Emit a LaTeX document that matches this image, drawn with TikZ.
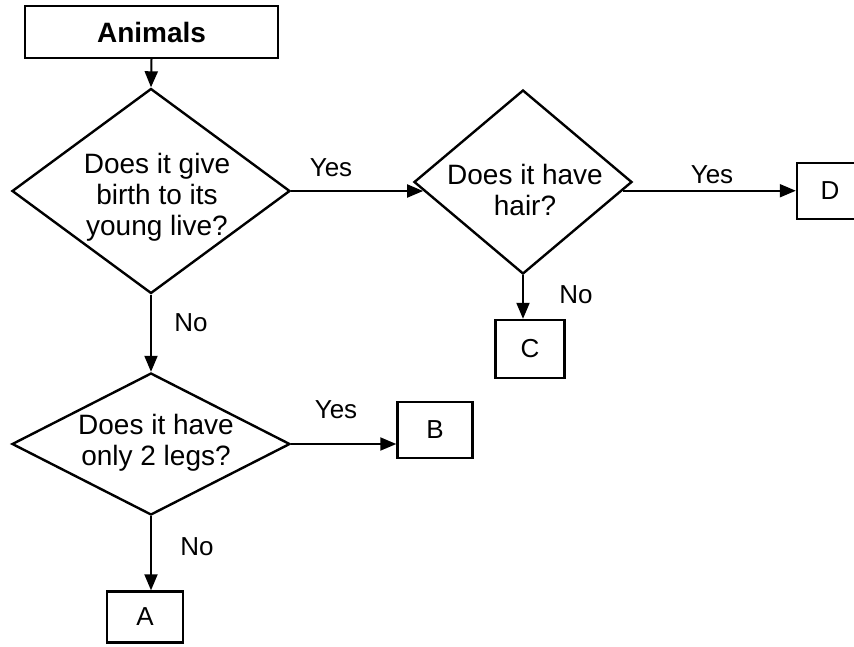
\documentclass[tikz,border=0pt]{standalone}
\usepackage{fontspec}
\setmainfont{Liberation Sans}
\usetikzlibrary{shapes.geometric,arrows.meta}
\begin{document}
\begin{tikzpicture}[x=1pt,y=-1pt,
  boxnode/.style={draw,line width=2.4pt,inner sep=0pt,font=\fontsize{26}{30}\selectfont},
  decision/.style={draw,diamond,line width=2.4pt,inner sep=0pt},
  qtext/.style={align=center,inner sep=0pt,font=\fontsize{28}{31}\selectfont},
  edgelabel/.style={inner sep=0pt,font=\fontsize{26}{30}\selectfont},
  flow/.style={line width=2pt,-{Triangle[length=16pt,width=13pt]}}]
\useasboundingbox (0,0) rectangle (854,646);

% start box
\node[boxnode,minimum width=253pt,minimum height=52pt,font=\bfseries\fontsize{28}{30}\selectfont]
  (animals) at (151.5,32) {Animals};

% decisions
\node[decision,minimum width=278pt,minimum height=205pt] (d1) at (151,191) {};
\node[qtext] (t1) at (157,197) {Does it give\\birth to its\\young live?};

\node[decision,minimum width=218pt,minimum height=184pt] (d2) at (523,182) {};
\node[qtext] (t2) at (525,190) {Does it have\\hair?};

\node[decision,minimum width=278pt,minimum height=142pt] (d3) at (151,444) {};
\node[qtext] (t3) at (156,443) {Does it have\\only 2 legs?};

% outcomes
\node[boxnode,minimum width=66pt,minimum height=56pt] (D) at (830,191) {D};
\node[boxnode,minimum width=69pt,minimum height=58pt] (C) at (530,349) {C};
\node[boxnode,minimum width=75pt,minimum height=56pt] (B) at (435,430) {B};
\node[boxnode,minimum width=76pt,minimum height=51pt] (A) at (145,617) {A};

% connectors
\draw[flow] (animals.south) -- (d1.north);
\draw[flow] (d1.east) -- (d1.east -| d2.185);
\draw[flow] (d2.-5) -- (d2.-5 -| D.west);
\draw[flow] (d2.south) -- (d2.south |- C.north);
\draw[flow] (d1.south) -- (d3.north);
\draw[flow] (d3.east) -- (d3.east -| B.west);
\draw[flow] (d3.south) -- (d3.south |- A.north);

% branch labels
\node[edgelabel] (y1) at (331,168) {Yes};
\node[edgelabel] (y2) at (712,175) {Yes};
\node[edgelabel] (n2) at (576,295) {No};
\node[edgelabel] (n1) at (191,323) {No};
\node[edgelabel] (y3) at (336,410) {Yes};
\node[edgelabel] (n3) at (197,547) {No};
\end{tikzpicture}
\end{document}
